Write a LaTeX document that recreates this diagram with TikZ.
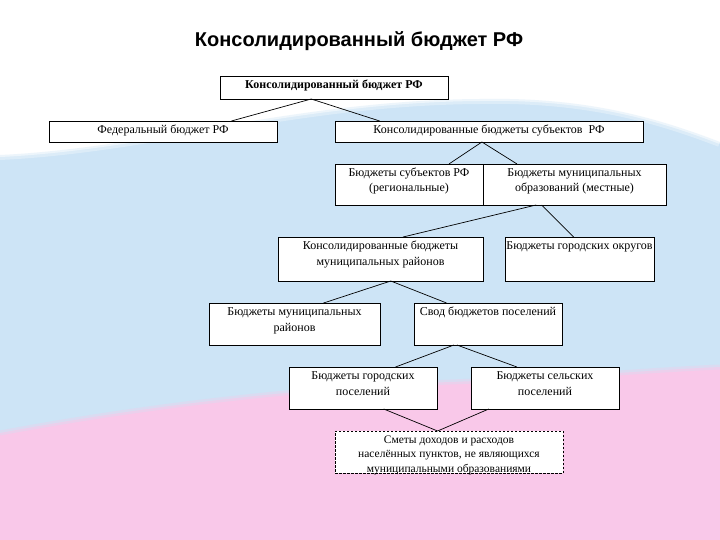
\documentclass[tikz,border=0pt]{standalone}
\usepackage{fontspec}
\setmainfont{Liberation Serif}
\newfontfamily\titlefont{Liberation Sans}
\usetikzlibrary{calc}
\definecolor{flagblue}{RGB}{205,228,246}
\definecolor{flagpink}{RGB}{249,200,233}
\newcommand\boxtext[3]{\parbox[t][#2][t]{#1}{\centering\fontsize{12}{15.5}\selectfont\rule{0pt}{12.5pt}#3}}
\tikzset{
  bx/.style={draw, line width=0.8pt, fill=white, inner sep=0pt, outer sep=0pt, anchor=north west},
  dbx/.style={bx, dash pattern=on 2.5pt off 1.5pt},
  conn/.style={draw, line width=0.7pt}
}
\begin{document}
\begin{tikzpicture}[x=1pt,y=-1pt]
\useasboundingbox (0,0) rectangle (720,540);
% background flag
\fill[white] (0,0) rectangle (720,540);
\fill[flagblue] (0,155) .. controls (150,148) and (300,100) .. (480,99) .. controls (580,97) and (650,115) .. (720,142) -- (720,540) -- (0,540) -- cycle;
\draw[white, line width=10pt, opacity=0.3] (0,155) .. controls (150,148) and (300,100) .. (480,99) .. controls (580,97) and (650,115) .. (720,142);
\draw[white, line width=4pt, opacity=0.5] (0,155) .. controls (150,148) and (300,100) .. (480,99) .. controls (580,97) and (650,115) .. (720,142);
\fill[flagpink] (0,433) .. controls (150,405) and (300,388) .. (450,382) .. controls (560,378) and (650,370) .. (720,367) -- (720,540) -- (0,540) -- cycle;
\draw[flagblue!50!flagpink, line width=5pt, opacity=0.6] (0,433) .. controls (150,405) and (300,388) .. (450,382) .. controls (560,378) and (650,370) .. (720,367);
% title
\node[anchor=base] (title) at (359,47) {\titlefont\bfseries\fontsize{20}{23}\selectfont Консолидированный бюджет РФ};
% boxes
\node[bx] (b1) at (220,76) {\parbox[t][23pt][t]{228pt}{\centering\fontsize{12}{15}\selectfont\rule{0pt}{12.5pt}\textbf{Консолидированный бюджет РФ}}};
\node[bx] (b2) at (49,121) {\boxtext{228pt}{21pt}{Федеральный бюджет РФ}};
\node[bx] (b3) at (335,121) {\boxtext{308pt}{21pt}{Консолидированные бюджеты субъектов\ \ РФ}};
\node[bx] (b4) at (335,164) {\boxtext{148pt}{41pt}{Бюджеты субъектов РФ\\(региональные)}};
\node[bx] (b5) at (483,164) {\boxtext{183pt}{41pt}{Бюджеты муниципальных\\образований (местные)}};
\node[bx] (b6) at (278,237) {\boxtext{205pt}{44pt}{Консолидированные бюджеты\\муниципальных районов}};
\node[bx] (b7) at (505,237) {\boxtext{149pt}{44pt}{Бюджеты городских округов}};
\node[bx] (b8) at (209,303) {\boxtext{171pt}{42pt}{Бюджеты муниципальных\\районов}};
\node[bx] (b9) at (414,303) {\boxtext{148pt}{42pt}{Свод бюджетов поселений}};
\node[bx] (b10) at (289,367) {\boxtext{148pt}{42pt}{Бюджеты городских\\поселений}};
\node[bx] (b11) at (471,367) {\boxtext{148pt}{42pt}{Бюджеты сельских\\поселений}};
\node[dbx] (b12) at (335,431) {\parbox[t][42pt][t]{228pt}{\centering\fontsize{11.5}{14.5}\selectfont\rule{0pt}{12pt}Сметы доходов и расходов\\населённых пунктов, не являющихся\\муниципальными образованиями}};
% connectors
\draw[conn] ($(b1.south west)!0.40!(b1.south east)$) -- ($(b2.north west)!0.80!(b2.north east)$);
\draw[conn] ($(b1.south west)!0.40!(b1.south east)$) -- ($(b3.north west)!0.145!(b3.north east)$);
\draw[conn] ($(b3.south west)!0.477!(b3.south east)$) -- ($(b4.north west)!0.77!(b4.north east)$);
\draw[conn] ($(b3.south west)!0.477!(b3.south east)$) -- ($(b5.north west)!0.186!(b5.north east)$);
\draw[conn] ($(b5.south west)!0.29!(b5.south east)$) -- ($(b6.north west)!0.61!(b6.north east)$);
\draw[conn] ($(b5.south west)!0.32!(b5.south east)$) -- ($(b7.north west)!0.46!(b7.north east)$);
\draw[conn] ($(b6.south west)!0.55!(b6.south east)$) -- ($(b8.north west)!0.67!(b8.north east)$);
\draw[conn] ($(b6.south west)!0.55!(b6.south east)$) -- ($(b9.north west)!0.22!(b9.north east)$);
\draw[conn] ($(b9.south west)!0.27!(b9.south east)$) -- ($(b10.north west)!0.72!(b10.north east)$);
\draw[conn] ($(b9.south west)!0.29!(b9.south east)$) -- ($(b11.north west)!0.31!(b11.north east)$);
\draw[conn] ($(b10.south west)!0.64!(b10.south east)$) -- ($(b12.north west)!0.45!(b12.north east)$);
\draw[conn] ($(b11.south west)!0.12!(b11.south east)$) -- ($(b12.north west)!0.45!(b12.north east)$);
\end{tikzpicture}
\end{document}
